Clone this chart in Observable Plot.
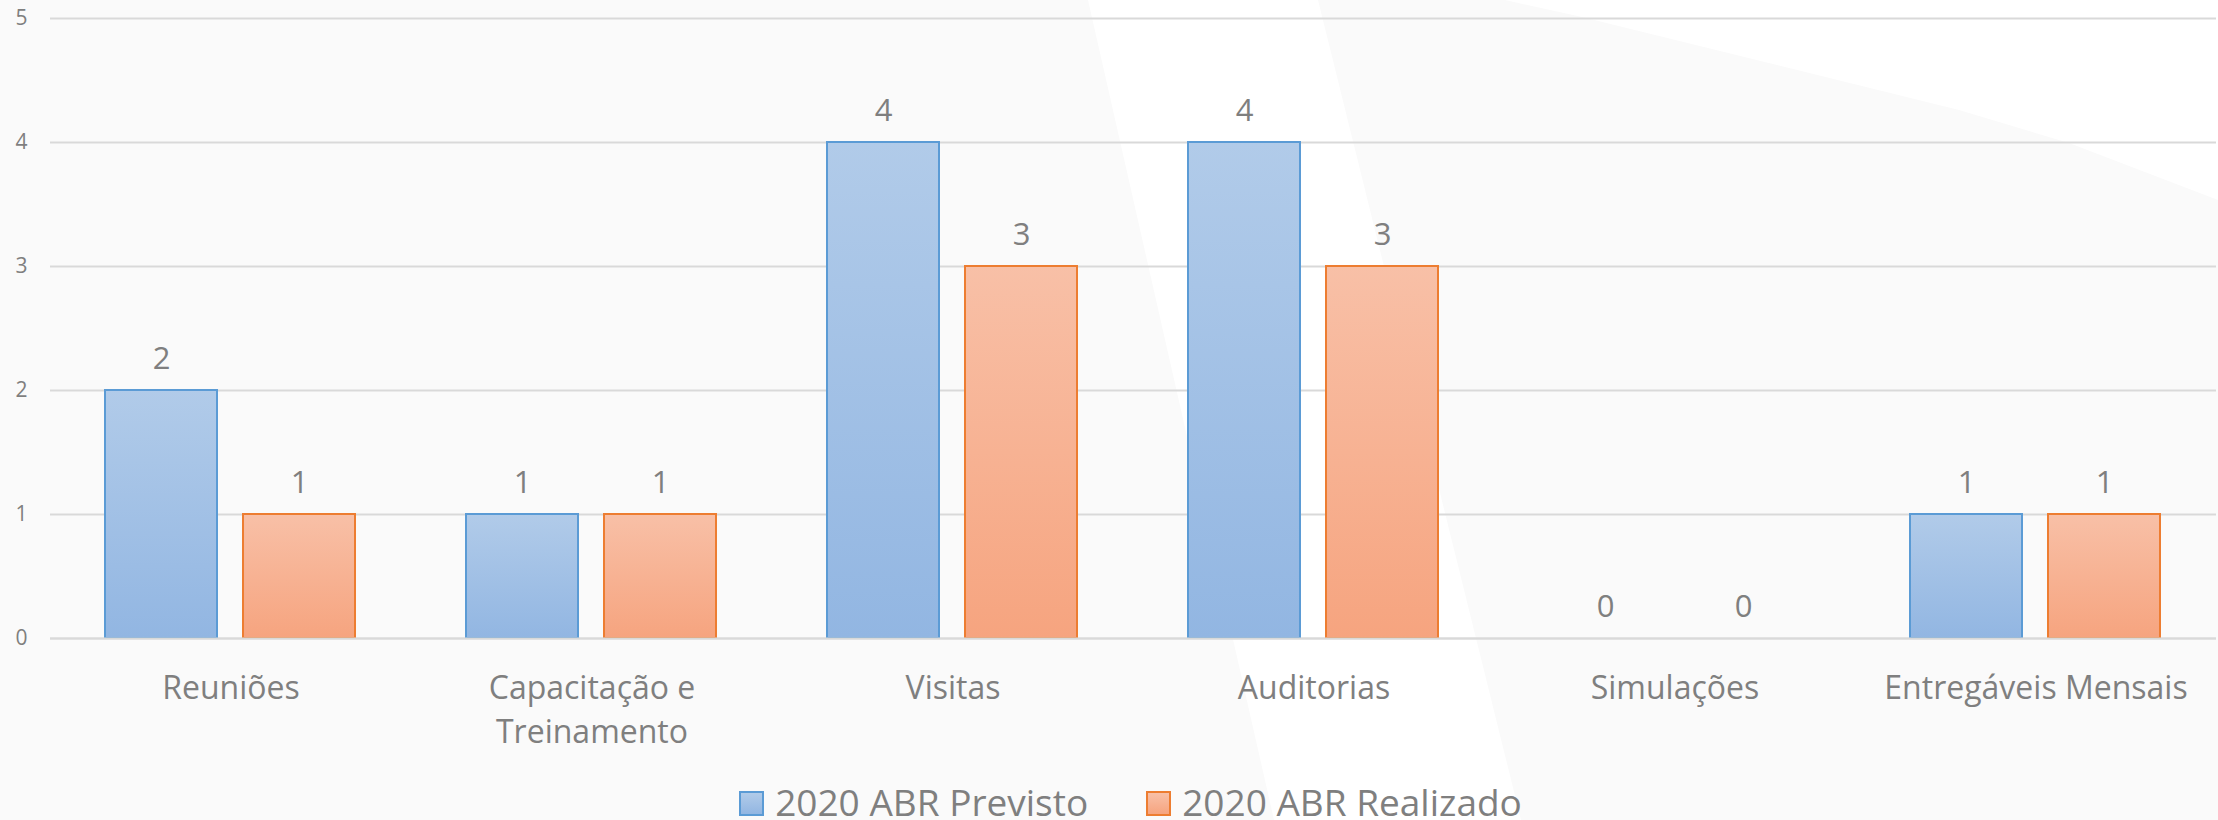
<!DOCTYPE html>
<html>
<head>
<meta charset="utf-8">
<script src="https://cdn.jsdelivr.net/npm/d3@7"></script>
<script src="https://cdn.jsdelivr.net/npm/@observablehq/plot@0.6"></script>
<style>
html, body { margin: 0; padding: 0; background: #fafafa; }
#wrap { position: relative; width: 2218px; height: 820px; overflow: hidden; background: #fafafa; font-family: "Open Sans", sans-serif; }
.bg { position: absolute; left: 0; top: 0; width: 2218px; height: 820px; background: #ffffff; }
#bg1 { clip-path: polygon(1088px 0px, 1318px 0px, 1521px 820px, 1274px 820px); }
#bg2 { clip-path: polygon(1505px 0px, 2218px 0px, 2218px 200px, 2069px 143px, 1959px 110px, 1582px 17px); }
#chart { position: absolute; left: 0; top: 0; }
#chart svg { display: block; }
#legend { position: absolute; left: 0; top: 783px; width: 2218px; display: flex; justify-content: center; padding-left: 43px; box-sizing: border-box; font-size: 37px; line-height: 37px; color: #7f7f7f; white-space: nowrap; }
.item { display: flex; align-items: baseline; margin: 0 29px; }
.sw { display: inline-block; width: 21px; height: 21px; border: 2px solid; margin-right: 11px; }
</style>
</head>
<body>
<div id="wrap">
  <div class="bg" id="bg1"></div>
  <div class="bg" id="bg2"></div>
  <div id="chart"></div>
  <div id="legend"></div>
</div>
<script>
// ---- data ----
const categories = ["Reuniões", "Capacitação e Treinamento", "Visitas", "Auditorias", "Simulações", "Entregáveis Mensais"];
const categoryLabels = ["Reuniões", "Capacitação e\nTreinamento", "Visitas", "Auditorias", "Simulações", "Entregáveis Mensais"];
const seriesNames = ["2020 ABR Previsto", "2020 ABR Realizado"];
const previsto = [2, 1, 4, 4, 0, 1];
const realizado = [1, 1, 3, 3, 0, 1];
const yTicks = [0, 1, 2, 3, 4, 5];

// ---- styles ----
const seriesFill = ["url(#gPrev)", "url(#gReal)"];
const seriesStroke = ["#5b9bd5", "#ed7d31"];
const gradStops = [["#b1cbe9", "#92b6e2"], ["#f8c0a7", "#f6a47f"]];
const textColor = "#7f7f7f";

const rows = [];
categories.forEach((c, i) => {
  rows.push({category: c, series: seriesNames[0], value: previsto[i]});
  rows.push({category: c, series: seriesNames[1], value: realizado[i]});
});

const W = 2218, H = 770, zeroY = 638;

const chart = Plot.plot({
  width: W,
  height: H,
  marginTop: 18,
  marginBottom: H - zeroY,
  marginLeft: 48,
  marginRight: 0,
  style: {fontFamily: '"Open Sans", sans-serif', fontSize: "21px", color: textColor, background: "transparent", overflow: "visible"},
  fx: {domain: categories, padding: 0, axis: null, label: null},
  x: {domain: seriesNames, paddingInner: 0.187, paddingOuter: 0.4, axis: null},
  y: {domain: [0, 5], ticks: 5, tickSize: 0, tickPadding: 23, label: null},
  marks: [
    Plot.ruleY(yTicks, {stroke: "#d9d9d9", strokeWidth: 2}),
    ...seriesNames.map((s, k) => Plot.barY(rows, {
      filter: d => d.series === s && d.value > 0,
      fx: "category", x: "series", y: "value",
      fill: seriesFill[k], stroke: seriesStroke[k], strokeWidth: 2
    })),
    Plot.ruleY([0], {stroke: "#d9d9d9", strokeWidth: 2}),
    Plot.text(rows, {
      fx: "category", x: "series", y: "value",
      text: d => String(d.value),
      dy: -22, lineAnchor: "bottom", fontSize: 31, fill: textColor
    }),
    Plot.text(categories, {
      fx: d => d,
      text: (d, i) => categoryLabels[i],
      frameAnchor: "bottom", dy: 30, lineAnchor: "top", lineHeight: 1.36,
      fontSize: 32, fill: textColor
    })
  ]
});

const svgNode = chart.tagName.toLowerCase() === "svg" ? chart : chart.querySelector("svg");
const defs = d3.select(svgNode).insert("defs", ":first-child");
["gPrev", "gReal"].forEach((id, k) => {
  const g = defs.append("linearGradient").attr("id", id).attr("x1", 0).attr("y1", 0).attr("x2", 0).attr("y2", 1);
  g.append("stop").attr("offset", "0%").attr("stop-color", gradStops[k][0]);
  g.append("stop").attr("offset", "100%").attr("stop-color", gradStops[k][1]);
});
document.getElementById("chart").appendChild(chart);

// ---- legend ----
const legend = d3.select("#legend");
seriesNames.forEach((s, k) => {
  const item = legend.append("div").attr("class", "item");
  item.append("span").attr("class", "sw")
    .style("border-color", seriesStroke[k])
    .style("background", `linear-gradient(${gradStops[k][0]}, ${gradStops[k][1]})`);
  item.append("span").text(s);
});
</script>
</body>
</html>
